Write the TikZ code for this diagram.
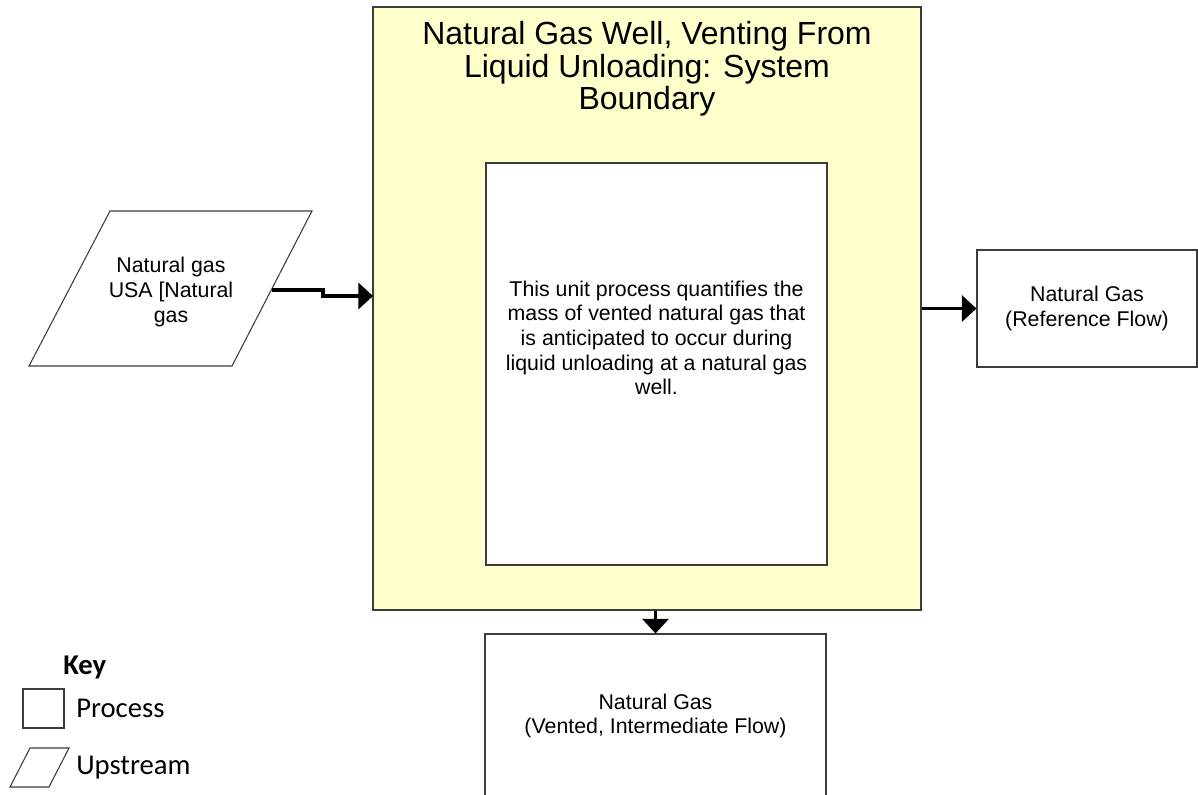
\documentclass[tikz,border=0pt]{standalone}
\usepackage{fontspec}
\setmainfont{Liberation Sans}
\newfontfamily\keyfont{Carlito}
\usetikzlibrary{arrows.meta}
\definecolor{bndfill}{RGB}{255,255,204}
\definecolor{edgecol}{RGB}{60,60,60}
\begin{document}
\begin{tikzpicture}[x=0.75pt,y=-0.75pt,
  flowarrow/.style={line width=2.8pt,-{Triangle[length=11pt,width=19.5pt]}},
  procbox/.style={draw=edgecol,line width=0.8pt,fill=white,align=center,inner sep=0pt},
  smalltext/.style={font=\fontsize{16}{18.5}\selectfont},
  keytext/.style={font=\keyfont\fontsize{21.5}{24}\selectfont,anchor=west,inner sep=0pt}]
\useasboundingbox (0,0) rectangle (1198,794);
% system boundary
\node[draw=edgecol,fill=bndfill,line width=0.8pt,minimum width=411pt,minimum height=452.25pt,inner sep=0pt] (bnd) at (647,308.5) {};
\node[align=center,font=\fontsize{24}{24.5}\selectfont] (title) at (647,69) {Natural Gas Well, Venting From\\Liquid Unloading: System\\Boundary};
% unit process
\node[procbox,smalltext,minimum width=255.75pt,minimum height=301.5pt] (proc) at (656.5,364) {};
\node[align=center,smalltext] (proctext) at (656.5,338) {This unit process quantifies the\\mass of vented natural gas that\\is anticipated to occur during\\liquid unloading at a natural gas\\well.};
% upstream parallelogram
\draw[draw=edgecol,line width=0.8pt,fill=white] (110,211) -- (312,211) -- (232,366) -- (29,366) -- cycle;
\node[align=center,smalltext] (up) at (171,292) {Natural gas\\USA [Natural\\gas};
\coordinate (upout) at (272,290);
\coordinate (bin) at (373,296);
% reference flow
\node[procbox,smalltext,minimum width=165pt,minimum height=87.75pt] (ref) at (1087,308.5) {Natural Gas\\(Reference Flow)};
% vented flow
\node[procbox,smalltext,minimum width=255.75pt,minimum height=123pt] (vent) at (655.5,716) {Natural Gas\\(Vented, Intermediate Flow)};
% connectors
\draw[flowarrow] (upout) -- ++(51,0) |- (bin);
\draw[flowarrow] (ref.west -| bnd.east) -- (ref.west);
\draw[flowarrow] (vent.north |- bnd.south) -- (vent.north);
% key
\node[keytext,font=\keyfont\bfseries\fontsize{21.5}{24}\selectfont] (keyt) at (63,667) {Key};
\node[draw=edgecol,line width=0.8pt,minimum width=30.75pt,minimum height=29.25pt,inner sep=0pt] (keyproc) at (43.5,708.5) {};
\node[keytext] (keyproct) at (76,708) {Process};
\draw[draw=edgecol,line width=0.8pt] (30,748) -- (69,748) -- (49,787) -- (10,787) -- cycle;
\node[keytext] (keyupt) at (76,768) {Upstream};
\end{tikzpicture}
\end{document}
